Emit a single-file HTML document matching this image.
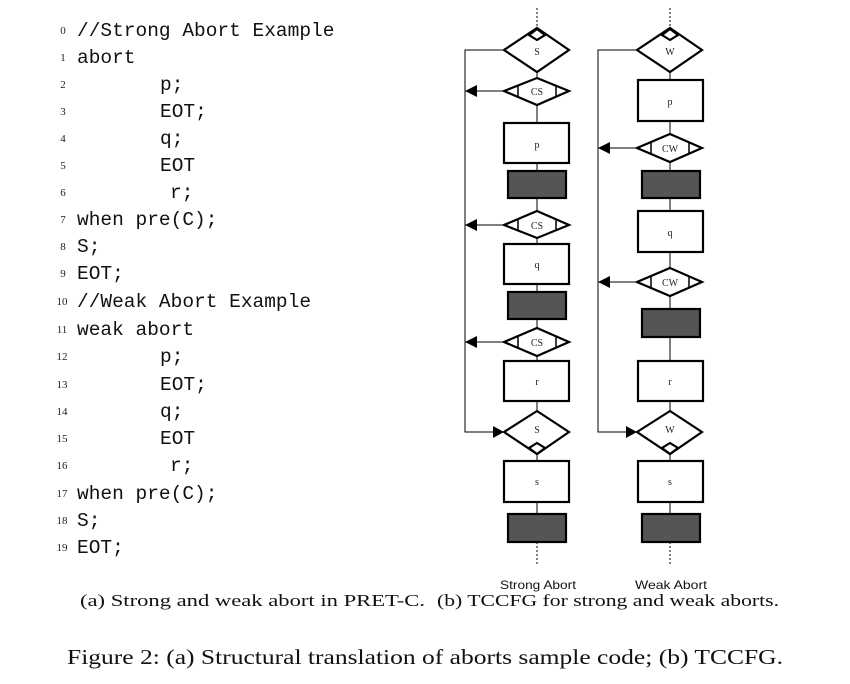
<!DOCTYPE html>
<html><head><meta charset="utf-8"><style>
html,body{margin:0;padding:0;background:#fff;width:850px;height:684px;overflow:hidden}
</style></head><body>
<svg width="850" height="684" viewBox="0 0 850 684" xmlns="http://www.w3.org/2000/svg">
<g font-family="Liberation Serif, serif" font-size="11" fill="#222" text-anchor="middle">
<text x="63" y="34">0</text><text x="63" y="61">1</text><text x="63" y="88">2</text><text x="63" y="115">3</text><text x="63" y="142">4</text><text x="63" y="169">5</text><text x="63" y="196">6</text><text x="63" y="223">7</text><text x="63" y="250">8</text><text x="63" y="277">9</text>
<text x="62" y="305">10</text><text x="62" y="333">11</text><text x="62" y="360">12</text><text x="62" y="388">13</text><text x="62" y="415">14</text><text x="62" y="442">15</text><text x="62" y="469">16</text><text x="62" y="497">17</text><text x="62" y="524">18</text><text x="62" y="551">19</text>
</g>
<g font-family="Liberation Mono, monospace" font-size="19.5" fill="#111">
<text x="77" y="36">//Strong Abort Example</text>
<text x="77" y="63">abort</text>
<text x="160" y="90">p;</text>
<text x="160" y="117">EOT;</text>
<text x="160" y="144">q;</text>
<text x="160" y="171">EOT</text>
<text x="170" y="198">r;</text>
<text x="77" y="225">when pre(C);</text>
<text x="77" y="252">S;</text>
<text x="77" y="279">EOT;</text>
<text x="77" y="307">//Weak Abort Example</text>
<text x="77" y="335">weak abort</text>
<text x="160" y="362">p;</text>
<text x="160" y="390">EOT;</text>
<text x="160" y="417">q;</text>
<text x="160" y="444">EOT</text>
<text x="170" y="471">r;</text>
<text x="77" y="499">when pre(C);</text>
<text x="77" y="526">S;</text>
<text x="77" y="553">EOT;</text>
</g>

<!-- Strong column -->
<g stroke="#000" fill="none">
<line x1="537" y1="8" x2="537" y2="28" stroke-dasharray="2,2" stroke-width="1"/>
<line x1="537" y1="542" x2="537" y2="564" stroke-dasharray="2,2" stroke-width="1"/>
<line x1="537" y1="28" x2="537" y2="542" stroke-width="1"/>
<line x1="670" y1="8" x2="670" y2="28" stroke-dasharray="2,2" stroke-width="1"/>
<line x1="670" y1="542" x2="670" y2="564" stroke-dasharray="2,2" stroke-width="1"/>
<line x1="670" y1="28" x2="670" y2="542" stroke-width="1"/>
<polyline points="504,50 465,50 465,432 497,432" stroke-width="1"/>
<polyline points="637,50 598,50 598,432 630,432" stroke-width="1"/>
<line x1="465" y1="91" x2="504" y2="91" stroke-width="1"/>
<line x1="465" y1="225" x2="504" y2="225" stroke-width="1"/>
<line x1="465" y1="342" x2="504" y2="342" stroke-width="1"/>
<line x1="598" y1="148" x2="637" y2="148" stroke-width="1"/>
<line x1="598" y1="282" x2="637" y2="282" stroke-width="1"/>
</g>
<g fill="#000">
<polygon points="465,91 477,85 477,97"/>
<polygon points="465,225 477,219 477,231"/>
<polygon points="465,342 477,336 477,348"/>
<polygon points="598,148 610,142 610,154"/>
<polygon points="598,282 610,276 610,288"/>
<polygon points="504,432 493,426 493,438"/>
<polygon points="637,432 626,426 626,438"/>
</g>
<g stroke="#000" stroke-width="2.2" fill="#fff">
<!-- strong -->
<polygon points="537,28 569,50 537,72 504,50"/>
<polygon points="537,29 545,35 537,40 529,35"/>
<polygon points="537,78 569,91 537,105 504,91"/>
<rect x="504" y="123" width="65" height="40"/>
<rect x="508" y="171" width="58" height="27" fill="#555"/>
<polygon points="537,211 569,225 537,238 504,225"/>
<rect x="504" y="244" width="65" height="40"/>
<rect x="508" y="292" width="58" height="27" fill="#555"/>
<polygon points="537,328 569,342 537,356 504,342"/>
<rect x="504" y="361" width="65" height="40"/>
<polygon points="537,411 569,432 537,454 504,432"/>
<polygon points="537,443 545,448 537,454 529,448"/>
<rect x="504" y="461" width="65" height="41"/>
<rect x="508" y="514" width="58" height="28" fill="#555"/>
<!-- weak -->
<polygon points="670,28 702,50 670,72 637,50"/>
<polygon points="670,29 678,35 670,40 662,35"/>
<rect x="638" y="80" width="65" height="41"/>
<polygon points="670,134 702,148 670,162 637,148"/>
<rect x="642" y="171" width="58" height="27" fill="#555"/>
<rect x="638" y="211" width="65" height="41"/>
<polygon points="670,268 702,282 670,296 637,282"/>
<rect x="642" y="309" width="58" height="28" fill="#555"/>
<rect x="638" y="361" width="65" height="40"/>
<polygon points="670,411 702,432 670,454 637,432"/>
<polygon points="670,443 678,448 670,454 662,448"/>
<rect x="638" y="461" width="65" height="41"/>
<rect x="642" y="514" width="58" height="28" fill="#555"/>
</g>
<g stroke="#000" stroke-width="1.5">
<line x1="518" y1="85" x2="518" y2="97"/><line x1="556" y1="85" x2="556" y2="97"/>
<line x1="518" y1="219" x2="518" y2="231"/><line x1="556" y1="219" x2="556" y2="231"/>
<line x1="518" y1="336" x2="518" y2="348"/><line x1="556" y1="336" x2="556" y2="348"/>
<line x1="651" y1="142" x2="651" y2="154"/><line x1="689" y1="142" x2="689" y2="154"/>
<line x1="651" y1="276" x2="651" y2="288"/><line x1="689" y1="276" x2="689" y2="288"/>
</g>
<g font-family="Liberation Serif, serif" font-size="10" fill="#222" text-anchor="middle">
<text x="537" y="55">S</text><text x="537" y="95">CS</text><text x="537" y="148">p</text>
<text x="537" y="229">CS</text><text x="537" y="268">q</text><text x="537" y="346">CS</text>
<text x="537" y="385">r</text><text x="537" y="433">S</text><text x="537" y="485">s</text>
<text x="670" y="55">W</text><text x="670" y="105">p</text><text x="670" y="152">CW</text>
<text x="670" y="236">q</text><text x="670" y="286">CW</text><text x="670" y="385">r</text>
<text x="670" y="433">W</text><text x="670" y="485">s</text>
</g>
<g font-family="Liberation Sans, sans-serif" font-size="12" fill="#111" text-anchor="middle">
<text x="538" y="589" textLength="76" lengthAdjust="spacingAndGlyphs">Strong Abort</text>
<text x="671" y="589" textLength="72" lengthAdjust="spacingAndGlyphs">Weak Abort</text>
</g>
<g font-family="Liberation Serif, serif" fill="#111">
<text x="80" y="606" font-size="17" textLength="345" lengthAdjust="spacingAndGlyphs">(a) Strong and weak abort in PRET-C.</text>
<text x="437" y="606" font-size="17" textLength="342" lengthAdjust="spacingAndGlyphs">(b) TCCFG for strong and weak aborts.</text>
<text x="67" y="664" font-size="21" textLength="716" lengthAdjust="spacingAndGlyphs">Figure 2: (a) Structural translation of aborts sample code; (b) TCCFG.</text>
</g>
</svg>
</body></html>
